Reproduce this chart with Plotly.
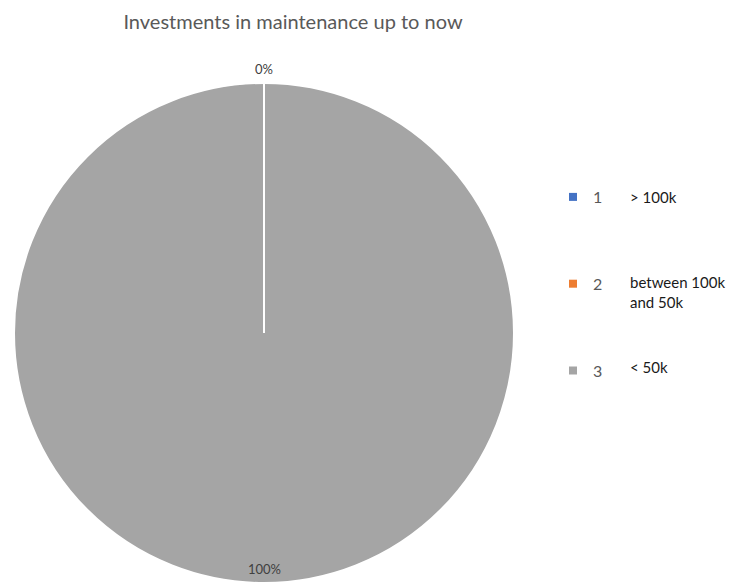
import plotly.graph_objects as go

# Survey answers: investment brackets for maintenance spending so far
categories = ["1", "2", "3"]
descriptions = ["> 100k", "between 100k<br>and 50k", "< 50k"]
counts = [0, 0, 100]
colors = ["#4472C4", "#ED7D31", "#A5A5A5"]

W, H = 733, 583
total = sum(counts)

# Pie placement in pixels (centre and radius), converted to paper fractions
cx, cy, r = 264, 333, 250
dom_x = [(cx - r) / W, (cx + r) / W]
dom_y = [max(0.0, (H - cy - r) / H), (H - cy + r) / H]

fig = go.Figure()

fig.add_trace(go.Pie(
    labels=categories,
    values=counts,
    sort=False,
    direction="clockwise",
    rotation=0,
    marker=dict(colors=colors, line=dict(color="white", width=2)),
    textinfo="none",
    showlegend=False,
    domain=dict(x=dom_x, y=dom_y),
    hoverinfo="label+percent",
))

# Slice boundary at 12 o'clock, where the empty slices sit
fig.add_shape(
    type="line", xref="paper", yref="paper",
    x0=cx / W, x1=cx / W, y0=(H - cy) / H, y1=(H - cy + r) / H,
    line=dict(color="white", width=2),
)

# Percentage labels: empty slices above the top edge, the full slice near the bottom
pct = [v / total for v in counts]
label_font = dict(family="Lato", size=13, color="#404040")
fig.add_annotation(
    x=cx / W, y=(H - (cy - r - 14)) / H, xref="paper", yref="paper",
    text=f"{pct[1]:.0%}", showarrow=False, font=label_font,
    xanchor="center", yanchor="middle",
)
fig.add_annotation(
    x=cx / W, y=(H - (cy + r - 14)) / H, xref="paper", yref="paper",
    text=f"{pct[2]:.0%}", showarrow=False, font=label_font,
    xanchor="center", yanchor="middle",
)

# Legend entries, one group each so the rows can be spread apart
for cat, col in zip(categories, colors):
    fig.add_trace(go.Scatter(
        x=[None], y=[None], mode="markers", name=cat, legendgroup=cat,
        marker=dict(symbol="square", size=8, color=col),
        showlegend=True,
    ))

# Bracket descriptions beside the legend rows
desc_y = [197, 292, 367]
for desc, yy in zip(descriptions, desc_y):
    fig.add_annotation(
        x=628 / W, y=1 - yy / H, xref="paper", yref="paper",
        xanchor="left", yanchor="middle",
        text=desc, showarrow=False, align="left",
        font=dict(family="Lato", size=15, color="#1a1a1a"),
    )

fig.update_layout(
    width=W, height=H,
    margin=dict(l=0, r=0, t=0, b=0),
    paper_bgcolor="white", plot_bgcolor="white",
    title=dict(
        text="Investments in maintenance up to now",
        x=293 / W, xanchor="center", xref="paper",
        y=1 - 22 / H, yanchor="middle", yref="container",
        font=dict(family="Lato", size=20, color="#595959"),
    ),
    xaxis=dict(visible=False), yaxis=dict(visible=False),
    legend=dict(
        x=553 / W, y=1 - 180 / H, xanchor="left", yanchor="top",
        tracegroupgap=63, bgcolor="rgba(0,0,0,0)",
        font=dict(family="Lato", size=16, color="#595959"),
    ),
)

fig.write_html("out.html")
